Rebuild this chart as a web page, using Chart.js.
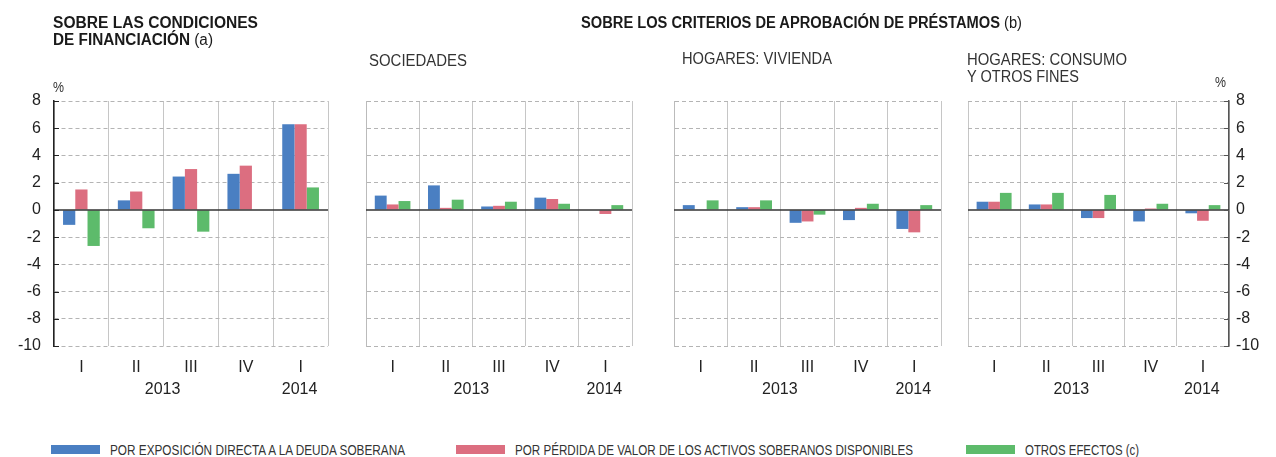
<!DOCTYPE html>
<html>
<head>
<meta charset="utf-8">
<script src="https://cdn.jsdelivr.net/npm/chart.js@4/dist/chart.umd.min.js"></script>
<style>
  html, body { margin: 0; padding: 0; background: #fff; }
  body { width: 1276px; height: 457px; position: relative; overflow: hidden; font-family: 'Liberation Sans', Arial, sans-serif; }
  .txt { position: absolute; white-space: nowrap; line-height: 1; transform-origin: 0 0; color: #1a1a1a; }
  .panel { position: absolute; top: 0; height: 420px; }
  .sw { position: absolute; height: 9px; width: 49px; }
</style>
</head>
<body>

<canvas id="c1" class="panel" style="left:0px;width:340px"></canvas>
<canvas id="c2" class="panel" style="left:355px;width:290px"></canvas>
<canvas id="c3" class="panel" style="left:664px;width:290px"></canvas>
<canvas id="c4" class="panel" style="left:960px;width:316px"></canvas>

<script>
// datos
const quarters = ['I', 'II', 'III', 'IV', 'I'];
const years = ['2013', '2014'];
const yearAt = [1.5, 4];   // posicion en categorias
const yMin = -10, yMax = 8, yStep = 2;

const seriesNames = [
  'POR EXPOSICIÓN DIRECTA A LA DEUDA SOBERANA',
  'POR PÉRDIDA DE VALOR DE LOS ACTIVOS SOBERANOS DISPONIBLES',
  'OTROS EFECTOS (c)'
];
const seriesColors = ['#4a7fc2', '#dc6e80', '#5dbb6b'];

// condiciones de financiacion
const finDeuda   = [-1.1, 0.7, 2.45, 2.65, 6.3];
const finActivos = [1.5, 1.35, 3.0, 3.25, 6.3];
const finOtros   = [-2.65, -1.35, -1.6, 0, 1.65];

// sociedades
const socDeuda   = [1.05, 1.8, 0.25, 0.9, 0];
const socActivos = [0.4, 0.15, 0.3, 0.8, -0.3];
const socOtros   = [0.65, 0.75, 0.6, 0.45, 0.35];

// hogares vivienda
const vivDeuda   = [0.35, 0.2, -0.95, -0.75, -1.4];
const vivActivos = [0, 0.2, -0.85, 0.15, -1.65];
const vivOtros   = [0.7, 0.7, -0.35, 0.45, 0.35];

// hogares consumo
const conDeuda   = [0.6, 0.4, -0.6, -0.85, -0.25];
const conActivos = [0.6, 0.4, -0.6, 0.1, -0.8];
const conOtros   = [1.25, 1.25, 1.1, 0.45, 0.35];


Chart.defaults.font.family = "'Liberation Sans', Arial, sans-serif";
Chart.defaults.font.size = 16;
Chart.defaults.color = '#222';

// eje cero, marcas internas y etiquetas de trimestres / años
const extras = {
  id: 'extras',
  afterDatasetsDraw(chart, args, opts) {
    const { ctx, chartArea: a, scales: { x, y } } = chart;
    ctx.save();
    const y0 = y.getPixelForValue(0);
    ctx.strokeStyle = '#333';
    ctx.lineWidth = 1.5;
    ctx.beginPath();
    ctx.moveTo(a.left, y0);
    ctx.lineTo(a.right, y0);
    ctx.stroke();

    if (opts.ticks) {
      ctx.strokeStyle = opts.side === 'left' ? '#222' : '#555';
      ctx.lineWidth = 1;
      const ax = opts.side === 'left' ? a.left : a.right;
      const dir = opts.side === 'left' ? 1 : -1;
      y.ticks.forEach(t => {
        const py = Math.round(y.getPixelForValue(t.value)) + 0.5;
        ctx.beginPath();
        ctx.moveTo(ax, py);
        ctx.lineTo(ax + dir * 5, py);
        ctx.stroke();
      });
    }

    ctx.fillStyle = '#222';
    ctx.font = "16px 'Liberation Sans', Arial, sans-serif";
    ctx.textAlign = 'center';
    ctx.textBaseline = 'middle';
    quarters.forEach((q, i) => ctx.fillText(q, x.getPixelForValue(i), 368));
    years.forEach((yr, i) => ctx.fillText(yr, x.getPixelForValue(yearAt[i]) - 1, 390));
    ctx.restore();
  }
};

function makePanel(id, values, cfg) {
  const canvas = document.getElementById(id);
  return new Chart(canvas, {
    type: 'bar',
    data: {
      labels: quarters,
      datasets: values.map((v, i) => ({
        label: seriesNames[i],
        data: v,
        backgroundColor: seriesColors[i],
        borderWidth: 0,
        categoryPercentage: 0.67,
        barPercentage: 1
      }))
    },
    options: {
      responsive: false,
      animation: false,
      layout: { padding: { top: 101, bottom: 74, left: cfg.padLeft, right: cfg.padRight } },
      plugins: {
        legend: { display: false },
        tooltip: { enabled: false },
        extras: { ticks: cfg.showTicks, side: cfg.side }
      },
      scales: {
        x: {
          ticks: { display: false },
          grid: { color: '#c6c6c6', offset: true, drawTicks: false },
          border: { display: false },
          afterFit: s => { s.height = 0; }
        },
        y: {
          position: cfg.side,
          min: yMin,
          max: yMax,
          ticks: { display: cfg.showTicks, stepSize: yStep, padding: cfg.tickPad, color: '#222' },
          grid: {
            drawTicks: false,
            color: c => (c.tick && c.tick.value === 0) ? 'rgba(0,0,0,0)' : '#b4b4b4'
          },
          border: { display: true, dash: [4, 3], color: cfg.axisColor, width: cfg.axisWidth },
          afterFit: s => { s.width = cfg.axisW; }
        }
      }
    },
    plugins: [extras]
  });
}

function sizeCanvas(id, w) {
  const c = document.getElementById(id);
  c.width = w; c.height = 420;
}
sizeCanvas('c1', 340); sizeCanvas('c2', 290); sizeCanvas('c3', 290); sizeCanvas('c4', 316);

makePanel('c1', [finDeuda, finActivos, finOtros],
  { side: 'left', showTicks: true, padLeft: 0, padRight: 12, axisW: 54, tickPad: 13, axisColor: '#222', axisWidth: 1.5 });
makePanel('c2', [socDeuda, socActivos, socOtros],
  { side: 'left', showTicks: false, padLeft: 11, padRight: 13, axisW: 0, tickPad: 0, axisColor: '#bbb', axisWidth: 1 });
makePanel('c3', [vivDeuda, vivActivos, vivOtros],
  { side: 'left', showTicks: false, padLeft: 10, padRight: 13, axisW: 0, tickPad: 0, axisColor: '#bbb', axisWidth: 1 });
makePanel('c4', [conDeuda, conActivos, conOtros],
  { side: 'right', showTicks: true, padLeft: 8, padRight: 0, axisW: 47, tickPad: 7, axisColor: '#555', axisWidth: 1.5 });


// textos html
function addText(html, x, baseline, size, w, opts = {}) {
  const el = document.createElement('div');
  el.className = 'txt';
  el.innerHTML = html;
  el.style.left = x + 'px';
  el.style.top = (baseline - 0.8465 * size) + 'px';
  el.style.fontSize = size + 'px';
  if (opts.bold) el.style.fontWeight = 'bold';
  if (opts.color) el.style.color = opts.color;
  document.body.appendChild(el);
  if (w) {
    const real = el.getBoundingClientRect().width;
    el.style.transform = 'scaleX(' + (w / real) + ')';
  }
  return el;
}

addText('SOBRE LAS CONDICIONES', 53, 29, 16, 205, { bold: true });
addText('DE FINANCIACIÓN <span style="font-weight:normal">(a)</span>', 53, 46, 16, 160, { bold: true });
addText('SOBRE LOS CRITERIOS DE APROBACIÓN DE PRÉSTAMOS <span style="font-weight:normal">(b)</span>', 581, 29, 16, 441, { bold: true });
addText('SOCIEDADES', 369, 67, 16, 98, { color: '#333' });
addText('HOGARES: VIVIENDA', 682, 65, 16, 150, { color: '#333' });
addText('HOGARES: CONSUMO', 967, 66, 16, 160, { color: '#333' });
addText('Y OTROS FINES', 967, 83, 16, 112, { color: '#333' });
addText('%', 53, 92, 15, 11, { color: '#333' });
addText('%', 1215, 87, 15, 11, { color: '#333' });

// leyenda
const legendX = [51, 456, 966];
const legendW = [295, 398, 114];
seriesNames.forEach((name, i) => {
  const sw = document.createElement('div');
  sw.className = 'sw';
  sw.style.left = legendX[i] + 'px';
  sw.style.top = '445px';
  sw.style.background = seriesColors[i];
  document.body.appendChild(sw);
  addText(name, legendX[i] + 59, 455, 14, legendW[i], { color: '#333' });
});
</script>
</body>
</html>
